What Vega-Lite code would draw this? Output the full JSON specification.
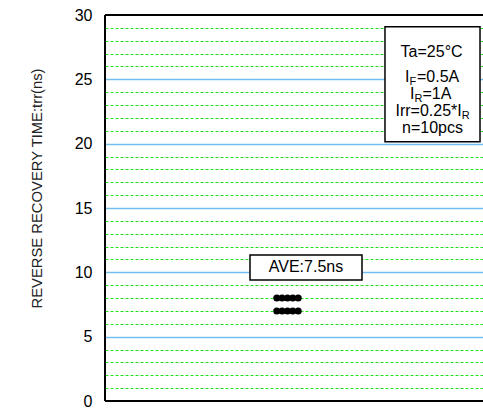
{
  "$schema": "https://vega.github.io/schema/vega-lite/v6.json",
  "autosize": "none",
  "width": 378,
  "height": 386,
  "padding": {"left": 105, "top": 15, "right": 0, "bottom": 7},
  "background": "white",
  "view": {"stroke": null},
  "config": {"font": "Liberation Sans"},
  "datasets": {
    "dots": [
      {"x": 45.45, "y": 8}, {"x": 46.85, "y": 8}, {"x": 48.28, "y": 8}, {"x": 49.68, "y": 8}, {"x": 51.11, "y": 8},
      {"x": 45.45, "y": 7}, {"x": 46.85, "y": 7}, {"x": 48.28, "y": 7}, {"x": 49.68, "y": 7}, {"x": 51.11, "y": 7}
    ],
    "boxes": [
      {"x": 38.36, "x2": 67.99, "y": 9.4, "y2": 11.35},
      {"x": 74.07, "x2": 99.21, "y": 20.15, "y2": 29.09}
    ],
    "ave": [{"x": 53.17, "y": 10.4, "t": "AVE:7.5ns"}],
    "main": [
      {"x": 78.2, "y": 27.15, "t": "Ta=25°C"},
      {"x": 79.37, "y": 25.2, "t": "I"},
      {"x": 82.54, "y": 25.2, "t": "=0.5A"},
      {"x": 80.69, "y": 23.85, "t": "I"},
      {"x": 84.0, "y": 23.85, "t": "=1A"},
      {"x": 76.85, "y": 22.55, "t": "Irr=0.25*I"},
      {"x": 78.57, "y": 21.25, "t": "n=10pcs"}
    ],
    "sub": [
      {"x": 80.56, "y": 25.2, "t": "F"},
      {"x": 81.88, "y": 23.85, "t": "R"},
      {"x": 94.39, "y": 22.55, "t": "R"}
    ],
    "borders": [
      {"x": 0, "x2": 0, "y": 0, "y2": 30},
      {"x": 0, "x2": 100, "y": 30, "y2": 30},
      {"x": 0, "x2": 100, "y": 0, "y2": 0}
    ]
  },
  "layer": [
    {
      "data": {"name": "dots"},
      "mark": {"type": "point", "filled": true, "color": "black", "opacity": 1, "size": 50},
      "encoding": {
        "x": {"field": "x", "type": "quantitative", "scale": {"domain": [0, 100], "nice": false, "zero": false}, "axis": null},
        "y": {
          "field": "y", "type": "quantitative",
          "scale": {"domain": [0, 30], "nice": false},
          "axis": {
            "title": "REVERSE RECOVERY TIME:trr(ns)",
            "titleFontSize": 14.8,
            "titleFontWeight": "normal",
            "titleColor": "#222222",
            "titleAngle": -90,
            "titleX": -68,
            "titleY": 173,
            "titleAlign": "center",
            "titleBaseline": "middle",
            "values": [0,1,2,3,4,5,6,7,8,9,10,11,12,13,14,15,16,17,18,19,20,21,22,23,24,25,26,27,28,29,30],
            "tickCount": 40,
            "labelExpr": "datum.value % 5 === 0 ? datum.label : ''",
            "labelOverlap": false,
            "labelBound": false,
            "labelFlush": false,
            "labelFontSize": 16,
            "labelColor": "black",
            "labelPadding": 13,
            "ticks": false,
            "domain": false,
            "grid": true,
            "gridColor": {"condition": {"test": "datum.value % 5 === 0", "value": "#74bff2"}, "value": "#1fe01f"},
            "gridDash": {"condition": {"test": "datum.value % 5 === 0", "value": []}, "value": [3, 2]},
            "gridWidth": {"condition": {"test": "datum.value % 5 === 0", "value": 1.6}, "value": 1},
            "gridOpacity": {"condition": {"test": "datum.value === 0 || datum.value === 30", "value": 0}, "value": 1}
          }
        }
      }
    },
    {
      "data": {"name": "borders"},
      "mark": {"type": "rule", "color": "black", "strokeWidth": 2},
      "encoding": {
        "x": {"field": "x", "type": "quantitative"},
        "x2": {"field": "x2"},
        "y": {"field": "y", "type": "quantitative"},
        "y2": {"field": "y2"}
      }
    },
    {
      "data": {"name": "boxes"},
      "mark": {"type": "rect", "fill": "white", "stroke": "black", "strokeWidth": 1.5},
      "encoding": {
        "x": {"field": "x", "type": "quantitative"},
        "x2": {"field": "x2"},
        "y": {"field": "y", "type": "quantitative"},
        "y2": {"field": "y2"}
      }
    },
    {
      "data": {"name": "ave"},
      "mark": {"type": "text", "fontSize": 16, "color": "black", "align": "center", "baseline": "middle"},
      "encoding": {
        "x": {"field": "x", "type": "quantitative"},
        "y": {"field": "y", "type": "quantitative"},
        "text": {"field": "t"}
      }
    },
    {
      "data": {"name": "main"},
      "mark": {"type": "text", "fontSize": 16, "color": "black", "align": "left", "baseline": "middle"},
      "encoding": {
        "x": {"field": "x", "type": "quantitative"},
        "y": {"field": "y", "type": "quantitative"},
        "text": {"field": "t"}
      }
    },
    {
      "data": {"name": "sub"},
      "mark": {"type": "text", "fontSize": 11, "color": "black", "align": "left", "baseline": "middle", "dy": 5},
      "encoding": {
        "x": {"field": "x", "type": "quantitative"},
        "y": {"field": "y", "type": "quantitative"},
        "text": {"field": "t"}
      }
    }
  ]
}
